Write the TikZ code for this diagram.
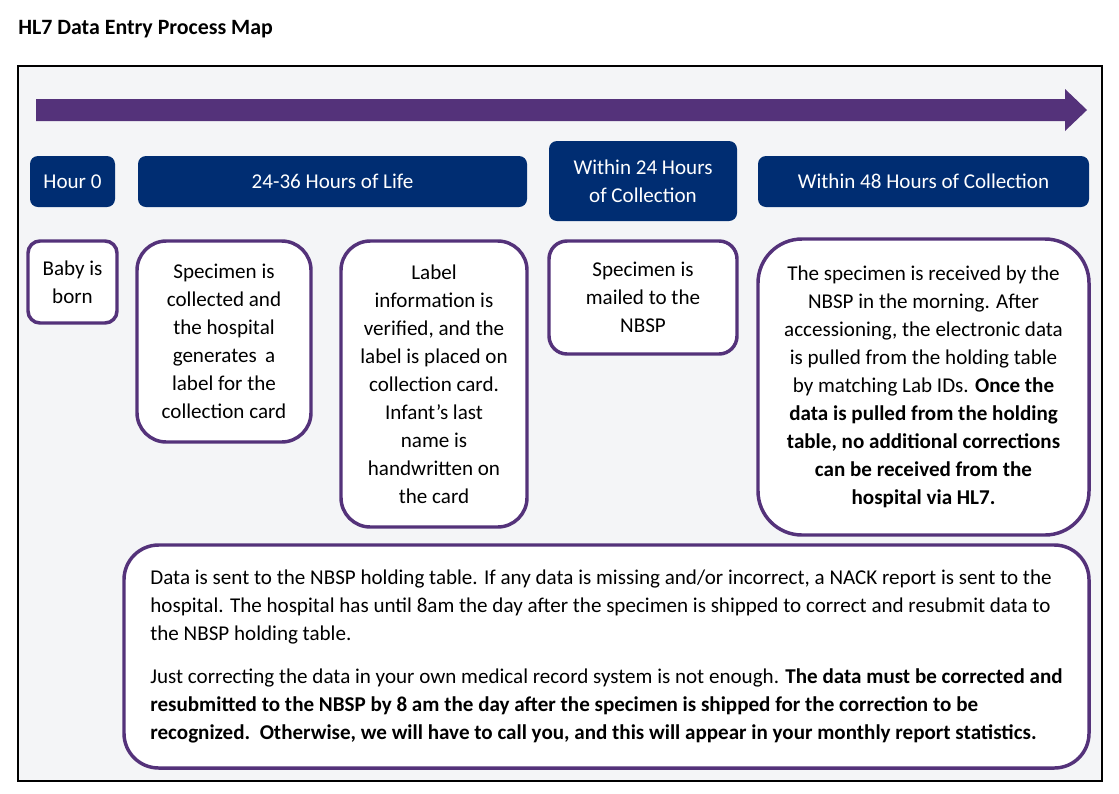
\documentclass[tikz,border=0pt]{standalone}
\usepackage{fontspec}
\setmainfont{Carlito}
\definecolor{nbsppurple}{RGB}{84,50,122}
\definecolor{nbspnavy}{RGB}{0,45,114}
\definecolor{mapbg}{RGB}{244,245,247}

\tikzset{hourbox/.style = {fill=nbspnavy, text=white, rounded corners=6pt,
                           align=center, inner sep=0pt,
                           font=\fontsize{15.8}{21}\selectfont},
         stepcard/.style = {draw=nbsppurple, line width=2.6pt, fill=white,
                            rounded corners=#1, align=center, inner sep=0pt,
                            font=\fontsize{15.8}{21}\selectfont},
         stepcard/.default=22pt
        }

\begin{document}
\begin{tikzpicture}[x=0.75pt,y=-0.75pt]
\useasboundingbox (0,0) rectangle (1119,793);
\fill[white] (0,0) rectangle (1119,793);
\node[anchor=base west, inner sep=0pt, font=\fontsize{16.4}{20}\selectfont\bfseries] at (18,34) (title) {HL7 Data Entry Process Map};
\draw[line width=1.5pt, fill=mapbg] (18,66) rectangle (1102,781);
% time line
\fill[nbsppurple] (36,99) -- (1065,99) -- (1065,89) -- (1087,110) -- (1065,131) -- (1065,121) -- (36,121) -- cycle;
% headers
\node[hourbox, minimum width=63.75pt, minimum height=38.25pt] at (72.5,181.5) (h0) {Hour 0};
\node[hourbox, minimum width=291.75pt, minimum height=38.25pt] at (332.5,181.5) (hlife) {24-36 Hours of Life};
\node[hourbox, minimum width=141pt, minimum height=60pt] at (643,181) (h24) {Within 24 Hours\\of Collection};
\node[hourbox, minimum width=248.25pt, minimum height=38.25pt] at (923.5,181.5) (h48) {Within 48 Hours of Collection};
% steps
\node[stepcard=9pt, minimum width=66.75pt, minimum height=61.5pt] at (72.5,282) (born) {Baby is\\born};
\node[stepcard, minimum width=130.5pt, minimum height=150.75pt] at (224,341.5) (collect) {Specimen is\\collected and\\the hospital\\generates\, a\\label for the\\collection card};
\node[stepcard, minimum width=139.5pt, minimum height=214.5pt] at (434,384) (verify) {Label\\information is\\verified, and the\\label is placed on\\collection card.\\Infant’s last\\name is\\handwritten on\\the card};
\node[stepcard=13.5pt, minimum width=141pt, minimum height=84.75pt] at (643,297.5) (mailed) {Specimen is\\mailed to the\\NBSP};
\node[stepcard=33pt, minimum width=248.25pt, minimum height=222pt] at (923.5,387) (received) {The specimen is received by the\\NBSP in the morning. After\\accessioning, the electronic data\\is pulled from the holding table\\by matching Lab IDs. \textbf{Once the}\\\textbf{data is pulled from the holding}\\\textbf{table, no additional corrections}\\\textbf{can be received from the}\\\textbf{hospital via HL7.}};
\node[stepcard=26pt, minimum width=723.75pt, minimum height=167.25pt, align=left] at (606.5,656.5) (holding) {Data is sent to the NBSP holding table. If any data is missing and/or incorrect, a NACK report is sent to the\\hospital. The hospital has until 8am the day after the specimen is shipped to correct and resubmit data to\\the NBSP holding table.\\[11pt]
Just correcting the data in your own medical record system is not enough. \textbf{The data must be corrected and}\\\textbf{resubmitted to the NBSP by 8 am the day after the specimen is shipped for the correction to be}\\\textbf{recognized.\ \ Otherwise, we will have to call you, and this will appear in your monthly report statistics.}};
\end{tikzpicture}
\end{document}
